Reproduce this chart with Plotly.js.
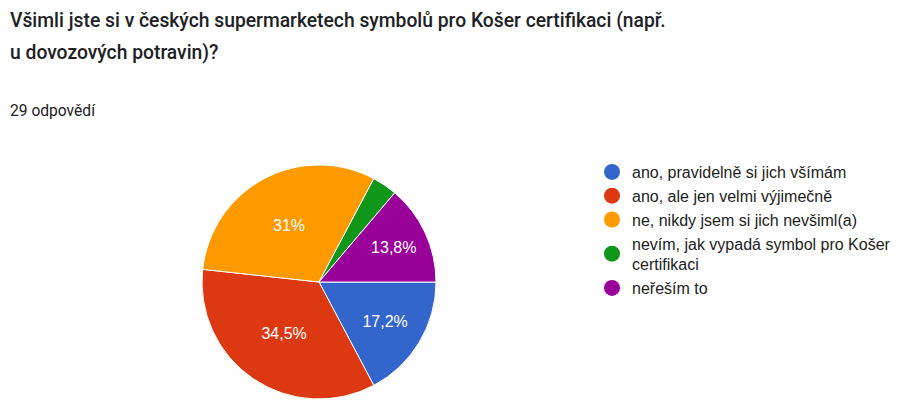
<!DOCTYPE html>
<html>
<head>
<meta charset="utf-8">
<script src="https://cdn.plot.ly/plotly-3.0.1.min.js"></script>
<style>html,body{margin:0;padding:0;background:#fff;}#chart{width:900px;height:406px;}</style>
</head>
<body>
<div id="chart"></div>
<script>
const categories = [
  "ano, pravidelně si jich všímám",
  "ano, ale jen velmi výjimečně",
  "ne, nikdy jsem si jich nevšiml(a)",
  "nevím, jak vypadá symbol pro Košer<br>certifikaci",
  "neřeším to"
];
const counts = [5, 10, 9, 1, 4];
const sliceLabels = ["17,2%", "34,5%", "31%", "", "13,8%"];
const colors = ["#3366cc", "#dc3912", "#ff9900", "#109618", "#990099"];
const titleLine1 = "Všimli jste si v českých supermarketech symbolů pro Košer certifikaci (např.";
const titleLine2 = "u dovozových potravin)?";
const subtitle = "29 odpovědí";

const W = 900, H = 406;
const cx = 319, cy = 282, r = 117;

const traces = [{
  type: "pie",
  values: counts,
  labels: categories,
  text: sliceLabels,
  textinfo: "text",
  textposition: "inside",
  insidetextorientation: "horizontal",
  sort: false,
  direction: "clockwise",
  rotation: 90,
  marker: {colors: colors, line: {color: "#ffffff", width: 1}},
  textfont: {family: "Liberation Sans, Arial, sans-serif", size: 16, color: "#ffffff"},
  showlegend: false,
  hoverinfo: "none",
  domain: {x: [(cx - r) / W, (cx + r) / W], y: [(H - cy - r) / H, (H - cy + r) / H]}
}];
categories.forEach((c, i) => {
  traces.push({
    type: "scatter", mode: "markers", x: [null], y: [null], name: c,
    marker: {color: colors[i], size: 16, symbol: "circle"},
    showlegend: true, hoverinfo: "none"
  });
});

const layout = {
  width: W, height: H,
  margin: {l: 0, r: 0, t: 0, b: 0},
  paper_bgcolor: "#ffffff", plot_bgcolor: "#ffffff",
  xaxis: {visible: false, domain: [0.99, 1]},
  yaxis: {visible: false, domain: [0.99, 1]},
  showlegend: true,
  legend: {
    x: 592 / W, xanchor: "left", y: 1 - 155 / H, yanchor: "top",
    font: {family: "Liberation Sans, Arial, sans-serif", size: 16, color: "#222222"},
    itemclick: false, itemdoubleclick: false, tracegroupgap: 0,
    bgcolor: "rgba(0,0,0,0)"
  },
  annotations: [
    {text: titleLine1, xref: "paper", yref: "paper", x: 8 / W, y: 1 - 20 / H, xanchor: "left", yanchor: "middle", showarrow: false,
     font: {family: "Roboto, sans-serif", size: 19.3, color: "#202124", weight: 500}},
    {text: titleLine2, xref: "paper", yref: "paper", x: 8 / W, y: 1 - 52 / H, xanchor: "left", yanchor: "middle", showarrow: false,
     font: {family: "Roboto, sans-serif", size: 19.3, color: "#202124", weight: 500}},
    {text: subtitle, xref: "paper", yref: "paper", x: 8 / W, y: 1 - 111 / H, xanchor: "left", yanchor: "middle", showarrow: false,
     font: {family: "Roboto, sans-serif", size: 15.6, color: "#202124"}}
  ]
};
Plotly.newPlot("chart", traces, layout, {staticPlot: true, displayModeBar: false});
</script>
</body>
</html>
